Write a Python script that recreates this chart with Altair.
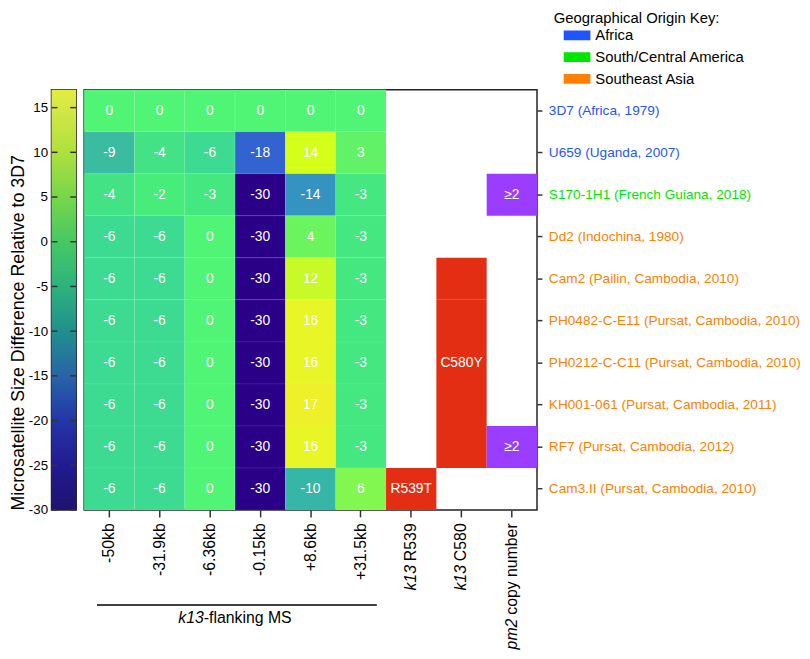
import altair as alt
import pandas as pd

# ---------------- data ----------------
columns = ["-50kb", "-31.9kb", "-6.36kb", "-0.15kb", "+8.6kb", "+31.5kb",
           "k13 R539", "k13 C580", "pm2 copy number"]
ms_columns = columns[:6]

rows = ["3D7 (Africa, 1979)",
        "U659 (Uganda, 2007)",
        "S170-1H1 (French Guiana, 2018)",
        "Dd2 (Indochina, 1980)",
        "Cam2 (Pailin, Cambodia, 2010)",
        "PH0482-C-E11 (Pursat, Cambodia, 2010)",
        "PH0212-C-C11 (Pursat, Cambodia, 2010)",
        "KH001-061 (Pursat, Cambodia, 2011)",
        "RF7 (Pursat, Cambodia, 2012)",
        "Cam3.II (Pursat, Cambodia, 2010)"]

origins = ["Africa", "Africa", "South/Central America", "Southeast Asia",
           "Southeast Asia", "Southeast Asia", "Southeast Asia",
           "Southeast Asia", "Southeast Asia", "Southeast Asia"]

ms_values = [
    [0, 0, 0, 0, 0, 0],
    [-9, -4, -6, -18, 14, 3],
    [-4, -2, -3, -30, -14, -3],
    [-6, -6, 0, -30, 4, -3],
    [-6, -6, 0, -30, 12, -3],
    [-6, -6, 0, -30, 16, -3],
    [-6, -6, 0, -30, 16, -3],
    [-6, -6, 0, -30, 17, -3],
    [-6, -6, 0, -30, 16, -3],
    [-6, -6, 0, -30, -10, 6],
]

k13_col = ["k13 R539", "k13 C580", "k13 C580", "k13 C580", "k13 C580", "k13 C580"]
k13_row = [rows[9], rows[4], rows[5], rows[6], rows[7], rows[8]]
k13_txt = ["R539T", "", "", "C580Y", "", ""]

pm2_col = ["pm2 copy number", "pm2 copy number"]
pm2_row = [rows[2], rows[8]]
pm2_txt = ["\u22652", "\u22652"]

origin_keys = ["Africa", "South/Central America", "Southeast Asia"]
origin_colors = ["#1f55ff", "#00e600", "#ff8000"]

# colour scale of the cells
cell_stops = [-30, -18, -14, -10, -9, -6, -4, -3, -2, 0, 3, 4, 6, 12, 14, 16, 17]
cell_colors = ["#2b0088", "#3363d0", "#3493c0", "#35b6a7", "#3abca0", "#3ddb91",
               "#43e285", "#44e780", "#48ec7a", "#50f575", "#62f268", "#6cf45e",
               "#82f750", "#c8fa28", "#d4ff1a", "#e8f526", "#eef02a"]

# colour bar
cbar_stops = [-30, -25, -20, -15, -10, -5, 0, 5, 10, 15, 17]
cbar_colors = ["#1f1270", "#221b90", "#2236a8", "#2864a8", "#20908c", "#2db37e",
               "#47c863", "#77d64a", "#aee03e", "#d6e845", "#e2ed40"]
cbar_ticks = [-30, -25, -20, -15, -10, -5, 0, 5, 10, 15]
cbar_domain = [-30, 17]

# x label parts (normal part on the axis, italic part as text)
label_plain = {"k13 R539": "R539", "k13 C580": "C580", "pm2 copy number": "copy number"}
label_italic = ["k13", "k13", "pm2"]
label_italic_col = ["k13 R539", "k13 C580", "pm2 copy number"]
label_italic_dx = [-42.7, -42.7, -96.9]

# ---------------- layout constants ----------------
W, H = 458, 425
CBW = 25
FONT = "Liberation Sans"
XLAB = 16

# ---------------- tables ----------------
heat_df = pd.DataFrame([
    {"row": r, "col": c, "val": v, "label": str(v)}
    for r, vals in zip(rows, ms_values) for c, v in zip(ms_columns, vals)
])
k13_df = pd.DataFrame({"col": k13_col, "row": k13_row, "t": k13_txt})
pm2_df = pd.DataFrame({"col": pm2_col, "row": pm2_row, "t": pm2_txt})
row_df = pd.DataFrame({"row": rows, "origin": origins})
one = pd.DataFrame({"a": [0]})

expr = "datum.value"
for k, v in label_plain.items():
    expr = f"datum.value == '{k}' ? '{v}' : ({expr})"

xaxis = alt.Axis(orient="bottom", title=None, labelAngle=270, labelFontSize=XLAB,
                 labelColor="black", labelPadding=6, tickSize=7, tickColor="#333",
                 tickWidth=1.5, domain=False, labelExpr=expr, labelFont=FONT)
yaxis = alt.Axis(orient="right", title=None, labels=False, tickSize=5,
                 tickColor="#333", tickWidth=1.5, domain=False)

X = alt.X("col:N", scale=alt.Scale(domain=columns, paddingInner=0, paddingOuter=0), axis=xaxis)
Y = alt.Y("row:N", scale=alt.Scale(domain=rows, paddingInner=0, paddingOuter=0), axis=yaxis)

heat = alt.Chart(heat_df).mark_rect(stroke="white", strokeOpacity=0.08, strokeWidth=1).encode(
    x=X, y=Y,
    color=alt.Color("val:Q", scale=alt.Scale(domain=cell_stops, range=cell_colors,
                                             interpolate="rgb"), legend=None))
heat_txt = alt.Chart(heat_df).mark_text(color="white", fontSize=14, font=FONT).encode(
    x=X, y=Y, text="label:N")

k13_rect = alt.Chart(k13_df).mark_rect(color="#e42e14").encode(x=X, y=Y)
k13_text = alt.Chart(k13_df).mark_text(color="white", fontSize=14, font=FONT).encode(
    x=X, y=Y, text="t:N")
pm2_rect = alt.Chart(pm2_df).mark_rect(color="#9b3dff").encode(x=X, y=Y)
pm2_text = alt.Chart(pm2_df).mark_text(color="white", fontSize=14, font=FONT).encode(
    x=X, y=Y, text="t:N")

legend = alt.Legend(title="Geographical Origin Key:", orient="none", legendX=508, legendY=-79,
                    titleFontSize=15, titleFontWeight="normal", titleColor="black",
                    titleFont=FONT, titlePadding=1, labelFont=FONT,
                    labelFontSize=15, labelColor="black",
                    symbolType="M-1,-0.37L1,-0.37L1,0.37L-1,0.37Z", symbolSize=729,
                    symbolStrokeWidth=0, symbolOffset=10, labelOffset=5,
                    clipHeight=16, rowPadding=6, padding=0, symbolOpacity=1,
                    direction="vertical")

row_labels = alt.Chart(row_df).mark_text(align="left", baseline="middle", fontSize=13.8,
                                         font=FONT).encode(
    y=Y, x=alt.value(W + 12), text="row:N",
    fill=alt.Fill("origin:N", scale=alt.Scale(domain=origin_keys, range=origin_colors),
                  legend=legend))

ital_layers = []
for c, t, dx in zip(label_italic_col, label_italic, label_italic_dx):
    ital_layers.append(
        alt.Chart(pd.DataFrame({"col": [c], "t": [t]})).mark_text(
            angle=270, align="right", baseline="middle", fontStyle="italic",
            fontSize=XLAB, dx=dx, color="black", font=FONT).encode(
            x=X, y=alt.value(H + 13), text="t:N"))

flank_rule = alt.Chart(one).mark_rule(color="black", strokeWidth=1.5).encode(
    x=alt.value(13), x2=alt.value(296), y=alt.value(521))
flank_t1 = alt.Chart(one).mark_text(align="right", baseline="middle", fontStyle="italic",
                                    fontSize=16, color="black", font=FONT).encode(
    x=alt.value(121), y=alt.value(534), text=alt.value("k13"))
flank_t2 = alt.Chart(one).mark_text(align="left", baseline="middle",
                                    fontSize=16, color="black", font=FONT).encode(
    x=alt.value(121), y=alt.value(534), text=alt.value("-flanking MS"))

main = alt.layer(heat, heat_txt, k13_rect, k13_text, pm2_rect, pm2_text, row_labels,
                 *ital_layers, flank_rule, flank_t1, flank_t2).properties(width=W, height=H)

# ---------------- colour bar ----------------
span = cbar_domain[1] - cbar_domain[0]
grad = alt.LinearGradient(
    gradient="linear", x1=0, x2=0, y1=1, y2=0,
    stops=[alt.GradientStop(offset=(v - cbar_domain[0]) / span, color=c)
           for v, c in zip(cbar_stops, cbar_colors)])
cb_rect = alt.Chart(one).mark_rect(fill=grad).encode(
    x=alt.value(0), x2=alt.value(CBW), y=alt.value(0), y2=alt.value(H))

tick_df = pd.DataFrame({"v": cbar_ticks})
cb_axis = alt.Axis(orient="left", values=cbar_ticks, ticks=False, domain=False,
                   labelFontSize=13.5, labelPadding=4, labelColor="black", labelFont=FONT,
                   labelExpr="'' + datum.value",
                   title="Microsatellite Size Difference Relative to 3D7",
                   titleFontSize=18, titleFontWeight="normal", titleColor="black",
                   titleFont=FONT, titlePadding=1, titleAnchor="start", grid=False)
cb_y = alt.Y("v:Q", scale=alt.Scale(domain=cbar_domain, nice=False, zero=False), axis=cb_axis)
cb_tl = alt.Chart(tick_df).mark_rule(color="#333", strokeWidth=1.5).encode(
    y=cb_y, x=alt.value(0), x2=alt.value(6))
cb_tr = alt.Chart(tick_df).mark_rule(color="#333", strokeWidth=1.5).encode(
    y=cb_y, x=alt.value(CBW - 6), x2=alt.value(CBW))
cbar = alt.layer(cb_rect, cb_tl, cb_tr).properties(width=CBW, height=H)

chart = alt.hconcat(cbar, main, spacing=8, bounds="flush").properties(
    padding=0, background="white"
).configure(font=FONT).configure_view(stroke="#222", strokeWidth=1.5)

chart.save("out.html", embed_options={"renderer": "svg", "actions": False})
